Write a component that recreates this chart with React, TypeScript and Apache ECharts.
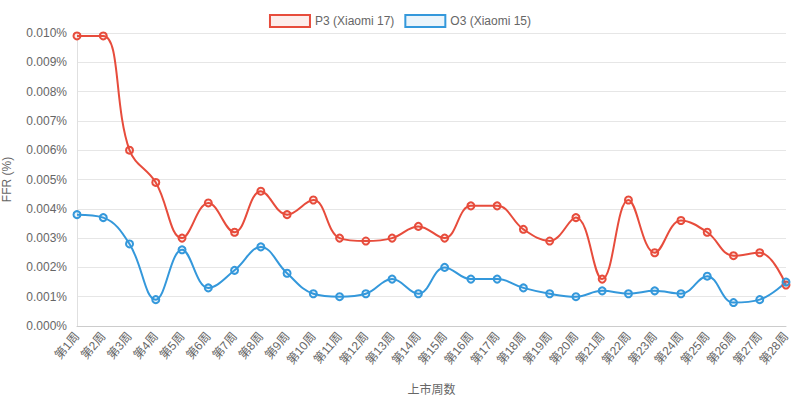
import React, { useEffect, useRef } from "react";
import * as echarts from "echarts";

const weeks = [
  "第1周", "第2周", "第3周", "第4周", "第5周", "第6周", "第7周", "第8周", "第9周", "第10周",
  "第11周", "第12周", "第13周", "第14周", "第15周", "第16周", "第17周", "第18周", "第19周", "第20周",
  "第21周", "第22周", "第23周", "第24周", "第25周", "第26周", "第27周", "第28周",
];

const p3Values = [
  0.0099, 0.0099, 0.006, 0.0049, 0.003, 0.0042, 0.0032, 0.0046, 0.0038, 0.0043,
  0.003, 0.0029, 0.003, 0.0034, 0.003, 0.0041, 0.0041, 0.0033, 0.0029, 0.0037,
  0.0016, 0.0043, 0.0025, 0.0036, 0.0032, 0.0024, 0.0025, 0.0014,
];

const o3Values = [
  0.0038, 0.0037, 0.0028, 0.0009, 0.0026, 0.0013, 0.0019, 0.0027, 0.0018, 0.0011,
  0.001, 0.0011, 0.0016, 0.0011, 0.002, 0.0016, 0.0016, 0.0013, 0.0011, 0.001,
  0.0012, 0.0011, 0.0012, 0.0011, 0.0017, 0.0008, 0.0009, 0.0015,
];

const seriesNames = ["P3 (Xiaomi 17)", "O3 (Xiaomi 15)"];

const RED = "#e74c3c";
const RED_FILL = "rgba(231,76,60,0.1)";
const BLUE = "#3498db";
const BLUE_FILL = "rgba(52,152,219,0.1)";
const FONT = "Liberation Sans, Arial, Helvetica, sans-serif";
const CJK_FONT = "Liberation Sans, Noto Sans CJK SC, sans-serif";
const TEXT = "#666";

export default function App() {
  const ref = useRef<HTMLDivElement>(null);

  useEffect(() => {
    document.body.style.margin = "0";
    if (!ref.current) return;
    const chart = echarts.init(ref.current, undefined, { renderer: "svg" });
    const mkSeries = (name: string, data: number[], color: string, fill: string) => ({
      name,
      type: "line",
      data,
      smooth: 0.4,
      symbol: "circle",
      symbolSize: 7,
      showSymbol: true,
      lineStyle: { color, width: 2 },
      itemStyle: { color: fill, borderColor: color, borderWidth: 2 },
    });
    chart.setOption({
      animation: false,
      textStyle: { fontFamily: FONT },
      legend: {
        top: 9,
        left: "center",
        icon: "rect",
        itemWidth: 40,
        itemHeight: 12,
        itemGap: 10,
        textStyle: { color: TEXT, fontSize: 12, fontFamily: FONT },
        data: [
          { name: seriesNames[0], itemStyle: { color: RED_FILL, borderColor: RED, borderWidth: 2 } },
          { name: seriesNames[1], itemStyle: { color: BLUE_FILL, borderColor: BLUE, borderWidth: 2 } },
        ],
      },
      grid: { left: 77, right: 14, top: 33, bottom: 75, containLabel: false, outerBoundsMode: "none" },
      xAxis: {
        type: "category",
        data: weeks,
        boundaryGap: false,
        name: "上市周数",
        nameLocation: "middle",
        nameGap: 58,
        nameTextStyle: { color: TEXT, fontSize: 12, fontFamily: CJK_FONT },
        axisLine: { lineStyle: { color: "#ccc" } },
        axisTick: { show: false },
        splitLine: { show: false },
        axisLabel: {
          rotate: 50,
          color: TEXT,
          fontSize: 12,
          margin: 8,
          interval: 0,
          fontFamily: CJK_FONT,
        },
      },
      yAxis: {
        type: "value",
        min: 0,
        max: 0.01,
        interval: 0.001,
        name: "FFR (%)",
        nameLocation: "middle",
        nameRotate: 90,
        nameGap: 64,
        nameTextStyle: { color: TEXT, fontSize: 12, fontFamily: FONT },
        axisLine: { show: true, lineStyle: { color: "#e0e0e0" } },
        axisTick: { show: false },
        splitLine: { lineStyle: { color: "#e6e6e6" } },
        axisLabel: {
          color: TEXT,
          fontSize: 12,
          margin: 10,
          formatter: (v: number) => v.toFixed(3) + "%",
        },
      },
      series: [
        mkSeries(seriesNames[0], p3Values, RED, RED_FILL),
        mkSeries(seriesNames[1], o3Values, BLUE, BLUE_FILL),
      ],
    });
    return () => chart.dispose();
  }, []);

  return <div ref={ref} style={{ width: 800, height: 401 }} />;
}
